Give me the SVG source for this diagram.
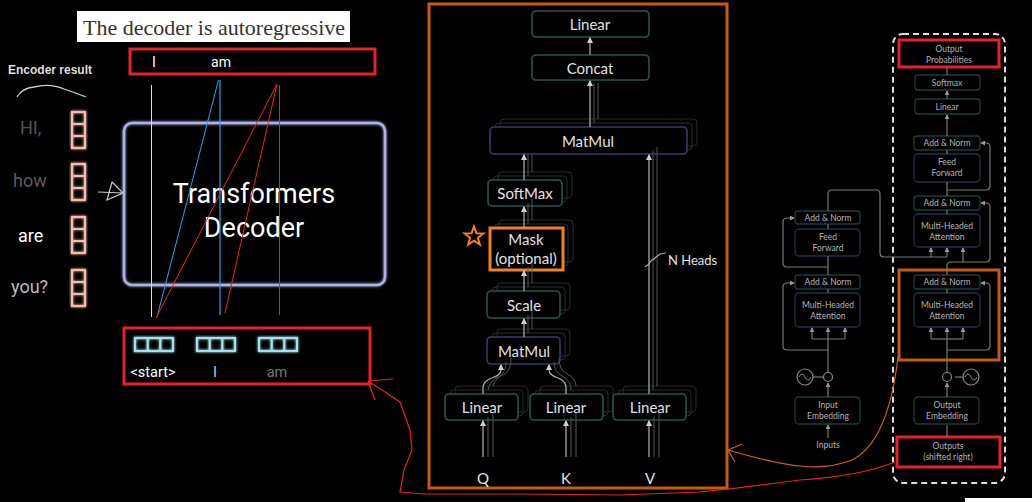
<svg xmlns="http://www.w3.org/2000/svg" width="1032" height="502" viewBox="0 0 1032 502">
<defs>
<style>
.bg{fill:#000}
.mt{font-family:Lato,"Open Sans",sans-serif;fill:#e2e2e2;font-size:15px;text-anchor:middle;dominant-baseline:central}
.rt{font-family:Lato,"Open Sans",sans-serif;fill:#b4b4b4;font-size:8.5px;text-anchor:middle;dominant-baseline:central}
.teal{fill:#000;stroke:#24554f;stroke-width:1.6}
.purp{fill:#000;stroke:#3a3a68;stroke-width:1.6}
.shd{fill:none;stroke:#2a2a2a;stroke-width:1}
.rteal{fill:#000;stroke:#1d3d39;stroke-width:1.3}
.rpurp{fill:#000;stroke:#2b2b48;stroke-width:1.3}
.ln{fill:none;stroke:#a8a8a8;stroke-width:1.3}
.lnf{fill:none;stroke:#555;stroke-width:1}
.rl{fill:none;stroke:#777;stroke-width:1.2}
.red{fill:none;stroke:#e8202a;stroke-width:3}
.ob{fill:none;stroke:#c85a10;stroke-width:3}
.vec{fill:none;stroke:#f3bcae;stroke-width:2.2}
.cy{fill:none;stroke:#a6e0e8;stroke-width:2.2}
.lt{font-family:Roboto,"Liberation Sans",sans-serif;dominant-baseline:central}
</style>
<marker id="ah" viewBox="0 0 6 6" refX="5" refY="3" markerWidth="5" markerHeight="5" orient="auto">
<path d="M0,0 L6,3 L0,6 z" fill="#d0d0d0"/>
</marker>
<marker id="ahs" viewBox="0 0 6 6" refX="5" refY="3" markerWidth="4" markerHeight="4" orient="auto">
<path d="M0,0 L6,3 L0,6 z" fill="#999"/>
</marker>
<filter id="glow" x="-20%" y="-20%" width="140%" height="140%">
<feGaussianBlur stdDeviation="1.5" result="b"/>
<feMerge><feMergeNode in="b"/><feMergeNode in="SourceGraphic"/></feMerge>
</filter>
</defs>
<rect class="bg" x="0" y="0" width="1032" height="502"/>

<!-- LEFT SECTION -->
<g id="title">
<rect x="77" y="11" width="273" height="31" fill="#fff"/>
<text x="83" y="27" font-family="Liberation Serif,serif" font-size="22" fill="#333" dominant-baseline="central">The decoder is autoregressive</text>
</g>
<g id="encoder-result">
<text x="8" y="70" font-family="Liberation Sans,Arial,sans-serif" font-size="12" font-weight="bold" fill="#ddd" dominant-baseline="central">Encoder result</text>
<path d="M17,97 Q22,88 34,87 Q50,83 64,89 Q76,93 86,97" fill="none" stroke="#ccc" stroke-width="1.3"/>
</g>
<g id="enc-words">
<text class="lt" x="20" y="127" font-size="18" fill="#555">HI,</text>
<text class="lt" x="13" y="180" font-size="18" fill="#5c5c5c">how</text>
<text class="lt" x="18" y="235" font-size="18" fill="#fff">are</text>
<text class="lt" x="11" y="286" font-size="18" fill="#bbb">you?</text>
</g>
<g id="enc-vectors" filter="url(#glow)">
<rect class="vec" x="72" y="112" width="13" height="36"/><path class="vec" d="M72,124 H85 M72,136 H85"/>
<rect class="vec" x="72" y="164" width="13" height="36"/><path class="vec" d="M72,176 H85 M72,188 H85"/>
<rect class="vec" x="72" y="217" width="13" height="36"/><path class="vec" d="M72,229 H85 M72,241 H85"/>
<rect class="vec" x="72" y="270" width="13" height="36"/><path class="vec" d="M72,282 H85 M72,294 H85"/>
</g>
<g id="hand-arrow">
<path d="M98,192 L123,193 M112,182 L123,193 L107,200 L112,182" fill="none" stroke="#ccc" stroke-width="1.2"/>
</g>
<g id="decoder-box">
<rect x="124" y="123" width="261" height="162" rx="8" fill="none" stroke="#aeb0e6" stroke-width="2.5" filter="url(#glow)"/>
<text class="lt" x="254" y="194" font-size="27" fill="#fff" text-anchor="middle">Transformers</text>
<text class="lt" x="254" y="228" font-size="27" fill="#fff" text-anchor="middle">Decoder</text>
</g>
<g id="output-tokens">
<rect class="red" x="130" y="49" width="245" height="25"/>
<text class="lt" x="154" y="62" font-size="14" fill="#fff" text-anchor="middle">I</text>
<text class="lt" x="221" y="62" font-size="14" fill="#fff" text-anchor="middle">am</text>
</g>
<g id="input-tokens">
<rect class="red" x="124" y="328" width="246" height="56"/>
<g filter="url(#glow)">
<rect class="cy" x="135" y="338" width="38" height="13"/><path class="cy" d="M147.7,338 V351 M160.3,338 V351"/>
<rect class="cy" x="197" y="338" width="38" height="13"/><path class="cy" d="M209.7,338 V351 M222.3,338 V351"/>
<rect class="cy" x="259" y="338" width="38" height="13"/><path class="cy" d="M271.7,338 V351 M284.3,338 V351"/>
</g>
<text class="lt" x="153" y="372" font-size="14.5" fill="#fff" text-anchor="middle">&lt;start&gt;</text>
<text class="lt" x="215" y="372" font-size="14.5" fill="#ccc" text-anchor="middle">I</text>
<text class="lt" x="277" y="372" font-size="14.5" fill="#777" text-anchor="middle">am</text>
</g>

<!-- MIDDLE PANEL -->
<g id="attn-panel">
<rect class="ob" x="429" y="4" width="298" height="484"/>
</g>
<g id="m-linear-top"><rect class="teal" x="532" y="11" width="117" height="26" rx="4"/><text class="mt" x="590" y="24">Linear</text></g>
<g id="m-concat"><rect class="teal" x="532" y="55" width="117" height="25" rx="4"/><text class="mt" x="590" y="67.5">Concat</text></g>
<g id="m-matmul-big">
<rect class="shd" x="500" y="119" width="197" height="27" rx="4"/>
<rect class="shd" x="495" y="123" width="197" height="27" rx="4"/>
<rect class="purp" x="490" y="127" width="197" height="27" rx="4"/><text class="mt" x="588" y="140.5">MatMul</text></g>
<g id="m-softmax">
<rect class="shd" x="498" y="172" width="74" height="26" rx="4"/>
<rect class="shd" x="493" y="176" width="74" height="26" rx="4"/>
<rect class="teal" x="488" y="180" width="74" height="26" rx="4"/><text class="mt" x="525" y="193">SoftMax</text></g>
<g id="m-mask">
<rect class="shd" x="499" y="220" width="74" height="42" rx="4"/>
<rect class="shd" x="494" y="224" width="74" height="42" rx="4"/>
<rect x="490" y="228" width="73" height="42" fill="#000" stroke="#f08020" stroke-width="3"/>
<text class="mt" x="526" y="239">Mask</text><text class="mt" x="526" y="258">(optional)</text>
<path d="M474,226.5 L476.4,233.2 L483.5,233.4 L477.9,237.8 L479.9,244.6 L474,240.6 L468.1,244.6 L470.1,237.8 L464.5,233.4 L471.6,233.2 Z" fill="none" stroke="#f08020" stroke-width="2"/>
</g>
<g id="m-scale">
<rect class="shd" x="497" y="283" width="73" height="27" rx="4"/>
<rect class="shd" x="492" y="287" width="73" height="27" rx="4"/>
<rect class="teal" x="487" y="291" width="73" height="27" rx="4"/><text class="mt" x="524" y="304.5">Scale</text></g>
<g id="m-matmul-small">
<rect class="shd" x="497" y="329" width="73" height="27" rx="4"/>
<rect class="shd" x="492" y="333" width="73" height="27" rx="4"/>
<rect class="purp" x="487" y="337" width="73" height="27" rx="4"/><text class="mt" x="524" y="350.5">MatMul</text></g>
<g id="m-linear-q">
<rect class="shd" x="455" y="386" width="73" height="26" rx="4"/>
<rect class="shd" x="450" y="390" width="73" height="26" rx="4"/>
<rect class="teal" x="445" y="394" width="73" height="26" rx="4"/><text class="mt" x="482" y="407">Linear</text></g>
<g id="m-linear-k">
<rect class="shd" x="540" y="386" width="73" height="26" rx="4"/>
<rect class="shd" x="535" y="390" width="73" height="26" rx="4"/>
<rect class="teal" x="530" y="394" width="73" height="26" rx="4"/><text class="mt" x="566" y="407">Linear</text></g>
<g id="m-linear-v">
<rect class="shd" x="623" y="386" width="73" height="26" rx="4"/>
<rect class="shd" x="618" y="390" width="73" height="26" rx="4"/>
<rect class="teal" x="613" y="394" width="73" height="26" rx="4"/><text class="mt" x="650" y="407">Linear</text></g>
<g id="m-labels">
<text class="mt" x="483" y="478" fill="#ccc">Q</text>
<text class="mt" x="566" y="478" fill="#ccc">K</text>
<text class="mt" x="650" y="478" fill="#ccc">V</text>
<text class="mt" x="668" y="260" style="text-anchor:start;font-size:13px">N Heads</text>
</g>

<!-- RIGHT PANEL -->
<g id="r-frame">
<rect x="893" y="34" width="112" height="449" rx="10" fill="none" stroke="#ddd" stroke-width="2" stroke-dasharray="6 4"/>
</g>
<g id="r-outprob"><rect class="red" x="899" y="40" width="100" height="27"/><text class="rt" x="949" y="49">Output</text><text class="rt" x="949" y="60">Probabilities</text></g>
<g id="r-softmax"><rect class="rteal" x="915" y="75" width="65" height="15" rx="3"/><text class="rt" x="947" y="82.5">Softmax</text></g>
<g id="r-linear"><rect class="rteal" x="915" y="99" width="65" height="15" rx="3"/><text class="rt" x="947" y="106.5">Linear</text></g>
<g id="r-d-addnorm3"><rect class="rteal" x="914" y="136" width="66" height="14" rx="3"/><text class="rt" x="947" y="143">Add &amp; Norm</text></g>
<g id="r-d-ff"><rect class="rpurp" x="914" y="154" width="66" height="28" rx="4"/><text class="rt" x="947" y="162">Feed</text><text class="rt" x="947" y="173">Forward</text></g>
<g id="r-d-addnorm2"><rect class="rteal" x="914" y="196" width="66" height="14" rx="3"/><text class="rt" x="947" y="203">Add &amp; Norm</text></g>
<g id="r-d-mha2"><rect class="rpurp" x="914" y="214" width="66" height="33" rx="4"/><text class="rt" x="947" y="226">Multi-Headed</text><text class="rt" x="947" y="237">Attention</text></g>
<g id="r-d-addnorm1"><rect class="rteal" x="914" y="275" width="66" height="14" rx="3"/><text class="rt" x="947" y="282">Add &amp; Norm</text></g>
<g id="r-d-mha1"><rect class="rpurp" x="914" y="293" width="66" height="34" rx="4"/><text class="rt" x="947" y="305">Multi-Headed</text><text class="rt" x="947" y="316">Attention</text></g>
<g id="r-d-highlight"><rect class="ob" x="899" y="270" width="100" height="90"/></g>
<g id="r-d-pos"><circle cx="947" cy="377" r="4.5" fill="none" stroke="#888" stroke-width="1.2"/><circle cx="971" cy="377" r="8" fill="none" stroke="#888" stroke-width="1.2"/><path d="M965,377 Q968,371 971,377 Q974,383 977,377" fill="none" stroke="#888" stroke-width="1"/></g>
<g id="r-outemb"><rect class="rteal" x="914" y="397" width="65" height="27" rx="4"/><text class="rt" x="947" y="405">Output</text><text class="rt" x="947" y="416">Embedding</text></g>
<g id="r-outputs"><rect class="red" x="897" y="437" width="103" height="30"/><text class="rt" x="948" y="446">Outputs</text><text class="rt" x="948" y="457">(shifted right)</text></g>
<g id="r-e-addnorm2"><rect class="rteal" x="795" y="211" width="65" height="13" rx="3"/><text class="rt" x="828" y="217.5">Add &amp; Norm</text></g>
<g id="r-e-ff"><rect class="rpurp" x="795" y="229" width="65" height="27" rx="4"/><text class="rt" x="828" y="237">Feed</text><text class="rt" x="828" y="248">Forward</text></g>
<g id="r-e-addnorm1"><rect class="rteal" x="795" y="275" width="65" height="14" rx="3"/><text class="rt" x="828" y="282">Add &amp; Norm</text></g>
<g id="r-e-mha"><rect class="rpurp" x="795" y="293" width="65" height="34" rx="4"/><text class="rt" x="828" y="305">Multi-Headed</text><text class="rt" x="828" y="316">Attention</text></g>
<g id="r-e-pos"><circle cx="828" cy="377" r="4.5" fill="none" stroke="#888" stroke-width="1.2"/><circle cx="805" cy="377" r="8" fill="none" stroke="#888" stroke-width="1.2"/><path d="M799,377 Q802,371 805,377 Q808,383 811,377" fill="none" stroke="#888" stroke-width="1"/></g>
<g id="r-inemb"><rect class="rteal" x="795" y="397" width="65" height="27" rx="4"/><text class="rt" x="828" y="405">Input</text><text class="rt" x="828" y="416">Embedding</text></g>
<g id="r-inputs"><text class="rt" x="828" y="445">Inputs</text></g>
<rect x="965" y="498" width="67" height="4" fill="#fff"/>

<!-- CONNECTORS -->
<g id="connectors">
<line x1="151.5" y1="85" x2="151.5" y2="317" stroke="#ddd" stroke-width="1"/>
<line x1="220" y1="80" x2="220" y2="315" stroke="#1aa8f0" stroke-width="1.2"/>
<line x1="218.5" y1="80" x2="157" y2="317" stroke="#1aa8f0" stroke-width="1"/>
<line x1="277" y1="84" x2="156" y2="318" stroke="#f02020" stroke-width="1"/>
<line x1="277" y1="84" x2="225" y2="313" stroke="#f02020" stroke-width="1"/>
<line x1="279.5" y1="85" x2="279.5" y2="315" stroke="#f02020" stroke-width="1"/>

<path class="ln" d="M590,55 V38" marker-end="url(#ah)"/>
<path class="ln" d="M590,127 V81" marker-end="url(#ah)"/>
<path class="lnf" d="M594,123 V83 M598,119 V83"/>
<path class="ln" d="M524,180 V155" marker-end="url(#ah)"/>
<path class="lnf" d="M528,176 V155 M532,172 V155"/>
<path class="ln" d="M524,228 V207" marker-end="url(#ah)"/>
<path class="lnf" d="M528,224 V203 M532,220 V199"/>
<path class="ln" d="M524,291 V271" marker-end="url(#ah)"/>
<path class="lnf" d="M528,287 V267 M532,283 V263"/>
<path class="ln" d="M524,337 V319" marker-end="url(#ah)"/>
<path class="lnf" d="M528,333 V315 M532,329 V311"/>
<path class="ln" d="M649,394 V155" marker-end="url(#ah)"/>
<path class="lnf" d="M653,390 V151 M657,386 V147"/>
<path d="M645,267 Q649,265 651,261 L660,254 L666,253" fill="none" stroke="#aaa" stroke-width="1.2"/>
<path class="ln" d="M483,394 V388 Q483,381 492,378 Q501,375 501,370 V365" marker-end="url(#ah)"/>
<path class="lnf" d="M488,390 Q490,380 500,376 Q506,372 506,362 M493,386 Q495,378 505,374 Q511,370 511,358"/>
<path class="ln" d="M566,394 V388 Q566,381 558,378 Q549,375 549,370 V365" marker-end="url(#ah)"/>
<path class="lnf" d="M571,390 Q571,380 562,376 Q554,372 554,362 M576,386 Q576,378 567,374 Q559,370 559,358"/>
<path class="ln" d="M483,457 V421" marker-end="url(#ah)"/>
<path class="lnf" d="M488,457 V417 M493,457 V413"/>
<path class="ln" d="M566,457 V421" marker-end="url(#ah)"/>
<path class="lnf" d="M571,457 V417 M576,457 V413"/>
<path class="ln" d="M649,457 V421" marker-end="url(#ah)"/>
<path class="lnf" d="M654,457 V417 M659,457 V413"/>

<path class="rl" d="M947,75 V68"/>
<path class="rl" d="M947,99 V91" marker-end="url(#ahs)"/>
<path class="rl" d="M947,136 V115" marker-end="url(#ahs)"/>
<path class="rl" d="M947,150 V154"/>
<path class="rl" d="M947,196 V182"/>
<path class="rl" d="M947,190 H986 Q990,190 990,186 V147 Q990,143 986,143 H981" marker-end="url(#ahs)"/>
<path class="rl" d="M947,210 V214"/>
<path class="rl" d="M947,289 V293"/>
<path class="rl" d="M947,275 V266 Q947,262 951,262 H963 V248" marker-end="url(#ahs)"/>
<path class="rl" d="M963,262 H986 Q990,262 990,258 V207 Q990,203 986,203 H981" marker-end="url(#ahs)"/>
<path class="rl" d="M828,211 V194 Q828,190 832,190 H876 Q880,190 880,194 V253 Q880,257 884,257 H947"/>
<path class="rl" d="M931,257 V248" marker-end="url(#ahs)"/>
<path class="rl" d="M947,257 V248" marker-end="url(#ahs)"/>
<path class="rl" d="M947,372 V339"/>
<path class="rl" d="M931,339 H963"/>
<path class="rl" d="M931,339 V328" marker-end="url(#ahs)"/>
<path class="rl" d="M947,339 V328" marker-end="url(#ahs)"/>
<path class="rl" d="M963,339 V328" marker-end="url(#ahs)"/>
<path class="rl" d="M947,350 H986 Q990,350 990,346 V287 Q990,283 986,283 H981" marker-end="url(#ahs)"/>
<path class="rl" d="M947,397 V383" marker-end="url(#ahs)"/>
<path class="rl" d="M955,377 H963"/>
<path class="rl" d="M947,437 V425"/>
<path class="rl" d="M828,256 V275 M828,289 V293 M828,224 V229"/>
<path class="rl" d="M828,267 H787 Q783,267 783,263 V222 Q783,218 787,218 H794" marker-end="url(#ahs)"/>
<path class="rl" d="M828,372 V339"/>
<path class="rl" d="M812,339 H845"/>
<path class="rl" d="M812,339 V328" marker-end="url(#ahs)"/>
<path class="rl" d="M828,339 V328" marker-end="url(#ahs)"/>
<path class="rl" d="M845,339 V328" marker-end="url(#ahs)"/>
<path class="rl" d="M828,350 H787 Q783,350 783,346 V287 Q783,283 787,283 H794" marker-end="url(#ahs)"/>
<path class="rl" d="M813,377 H823"/>
<path class="rl" d="M828,397 V383" marker-end="url(#ahs)"/>
<path class="rl" d="M828,438 V425" marker-end="url(#ahs)"/>

<path d="M895,462 Q860,476 800,480 Q740,488 700,492 L620,495 L520,494 L425,494 L400,492 L404,470 L412,450 L410,430 L400,402 L385,392 L368,381" fill="none" stroke="#e82020" stroke-width="1.2"/>
<path d="M368,381 L393,379 M368,381 L375,400" fill="none" stroke="#e82020" stroke-width="1.2"/>
<path d="M898,357 C893,400 882,445 852,460 C822,472 790,468 728,450" fill="none" stroke="#d06010" stroke-width="1.2"/>
<path d="M728,450 L742,444 M728,450 L735,462" fill="none" stroke="#d06010" stroke-width="1.2"/>
</g>
</svg>
